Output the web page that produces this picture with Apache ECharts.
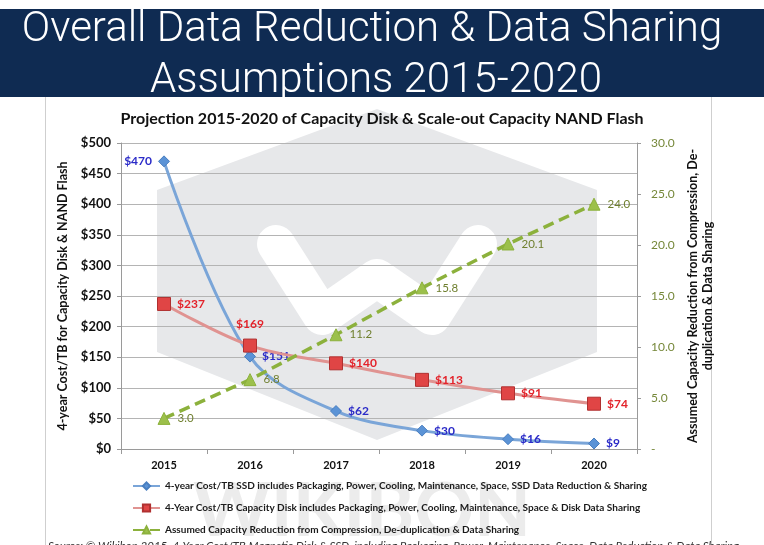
<!DOCTYPE html>
<html>
<head>
<meta charset="utf-8">
<script src="https://cdn.jsdelivr.net/npm/echarts@6/dist/echarts.min.js"></script>
<style>
  html, body { margin: 0; padding: 0; background: #fff; }
  #chart { width: 764px; height: 545px; }
</style>
</head>
<body>
<div id="chart"></div>
<script>
// data
const years = ['2015', '2016', '2017', '2018', '2019', '2020']
const ssdCost = [470, 151, 62, 30, 16, 9]
const diskCost = [237, 169, 140, 113, 91, 74]
const reduction = [3.0, 6.8, 11.2, 15.8, 20.1, 24.0]
const seriesNames = [
  '4-year Cost/TB SSD includes Packaging, Power, Cooling, Maintenance, Space, SSD Data Reduction & Sharing',
  '4-Year Cost/TB Capacity Disk includes Packaging, Power, Cooling, Maintenance, Space & Disk Data Sharing',
  'Assumed Capacity Reduction from Compression, De-duplication & Data Sharing'
]

const chart = echarts.init(document.getElementById('chart'))
const FONT = 'Lato'

// 水印与页眉
const graphics = [
  {
    type: 'rect', z: -20, silent: true,
    shape: { x: 0, y: 9, width: 764, height: 88 },
    style: { fill: '#0f2b52' }
  },
  {
    type: 'text', z: -5, silent: true,
    style: {
      text: 'Overall Data Reduction & Data Sharing', x: 372, y: 30,
      align: 'center', verticalAlign: 'middle',
      fontFamily: 'Roboto', fontWeight: 300, fontSize: 42, fill: '#ffffff'
    }
  },
  {
    type: 'text', z: -5, silent: true,
    style: {
      text: 'Assumptions 2015-2020', x: 376, y: 81,
      align: 'center', verticalAlign: 'middle',
      fontFamily: 'Roboto', fontWeight: 300, fontSize: 42, fill: '#ffffff'
    }
  },
  {
    type: 'polygon', z: -20, silent: true,
    shape: { points: [[377, 109], [597, 190], [597, 352], [377, 440], [157, 352], [157, 190]] },
    style: { fill: '#e7e8ea' }
  },
  {
    type: 'polyline', z: -19, silent: true,
    shape: { points: [[276, 244], [322, 316], [377, 278], [432, 316], [478, 244]] },
    style: { stroke: '#ffffff', lineWidth: 38, lineJoin: 'round', lineCap: 'round', fill: null }
  },
  {
    type: 'text', z: -19, silent: true,
    style: {
      text: 'WIKIBON', x: 362, y: 512, align: 'center', verticalAlign: 'middle',
      fontFamily: FONT, fontWeight: 'bold', fontSize: 74, fill: '#ececec'
    }
  },
  {
    type: 'line', z: -5, silent: true,
    shape: { x1: 45.5, y1: 97, x2: 45.5, y2: 545 },
    style: { stroke: '#cfcfcf', lineWidth: 1 }
  },
  {
    type: 'line', z: -5, silent: true,
    shape: { x1: 711.5, y1: 97, x2: 711.5, y2: 545 },
    style: { stroke: '#cfcfcf', lineWidth: 1 }
  },
  {
    type: 'text', z: -5, silent: true,
    style: {
      text: 'Source: \u00a9 Wikibon 2015. 4-Year Cost/TB Magnetic Disk & SSD, including Packaging, Power, Maintenance, Space, Data Reduction & Data Sharing',
      x: 48, y: 540, align: 'left', verticalAlign: 'top',
      fontFamily: FONT, fontStyle: 'italic', fontSize: 11.5, fill: '#333333'
    }
  }
]

const option = {
  backgroundColor: '#ffffff',
  textStyle: { fontFamily: FONT },
  graphic: graphics,
  title: {
    text: 'Projection 2015-2020 of Capacity Disk & Scale-out Capacity NAND Flash',
    left: 'center',
    top: 106,
    textStyle: { fontFamily: FONT, fontSize: 16, fontWeight: 'bold', color: '#111' }
  },
  grid: { left: 121, right: 127, top: 143, bottom: 96 },
  legend: {
    orient: 'vertical',
    left: 127,
    top: 476,
    itemWidth: 27,
    itemHeight: 9,
    itemGap: 12,
    textStyle: { fontFamily: FONT, fontSize: 10, fontWeight: 'bold', color: '#1a1a1a' },
    data: seriesNames
  },
  xAxis: {
    type: 'category',
    data: years,
    axisLine: { lineStyle: { color: '#9a9a9a' } },
    axisTick: { show: true, length: 5, lineStyle: { color: '#9a9a9a' } },
    axisLabel: { fontFamily: FONT, fontSize: 11, fontWeight: 'bold', color: '#111', margin: 11 }
  },
  yAxis: [
    {
      type: 'value',
      min: 0, max: 500, interval: 50,
      name: '4-year Cost/TB for Capacity Disk & NAND Flash',
      nameLocation: 'middle',
      nameGap: 51,
      nameTextStyle: { fontFamily: FONT, fontSize: 12.5, fontWeight: 'bold', color: '#111' },
      axisLine: { show: true, lineStyle: { color: '#9a9a9a' } },
      axisTick: { show: true, length: 4, lineStyle: { color: '#9a9a9a' } },
      splitLine: { lineStyle: { color: '#b4b4b4' } },
      axisLabel: {
        fontFamily: FONT, fontSize: 13, fontWeight: 'bold', color: '#111', margin: 10,
        formatter: v => '$' + v
      }
    },
    {
      type: 'value',
      min: 0, max: 30, interval: 5,
      name: 'Assumed Capacity Reduction from Compression, De-\nduplication & Data Sharing',
      nameLocation: 'middle',
      nameGap: 43,
      nameTextStyle: { fontFamily: FONT, fontSize: 12.5, fontWeight: 'bold', color: '#111', lineHeight: 15 },
      axisLine: { show: true, lineStyle: { color: '#9a9a9a' } },
      axisTick: { show: true, length: 4, lineStyle: { color: '#9a9a9a' } },
      splitLine: { show: false },
      axisLabel: {
        fontFamily: FONT, fontSize: 12, color: '#76883a', margin: 14,
        formatter: v => (v === 0 ? '-' : v.toFixed(1))
      }
    }
  ],
  series: [
    {
      name: seriesNames[0],
      type: 'line',
      data: ssdCost,
      smooth: 0.35,
      symbol: 'diamond',
      symbolSize: 11,
      lineStyle: { color: '#7aa5d8', width: 3 },
      itemStyle: { color: '#5b93d6', borderColor: '#4a7fc0', borderWidth: 1 },
      label: {
        show: true,
        position: 'right',
        distance: 6,
        fontFamily: FONT, fontSize: 12, fontWeight: 'bold', color: '#2b2bc8',
        formatter: p => '$' + p.value
      },
      z: 2
    },
    {
      name: seriesNames[1],
      type: 'line',
      data: diskCost,
      smooth: 0.35,
      symbol: 'rect',
      symbolSize: 13,
      lineStyle: { color: '#e09391', width: 3 },
      itemStyle: { color: '#e04545', borderColor: '#b03030', borderWidth: 1 },
      label: {
        show: true,
        position: 'right',
        distance: 6,
        fontFamily: FONT, fontSize: 12, fontWeight: 'bold', color: '#e3232b',
        formatter: p => '$' + p.value
      },
      z: 3
    },
    {
      name: seriesNames[2],
      type: 'line',
      yAxisIndex: 1,
      data: reduction,
      symbol: 'triangle',
      symbolSize: 12,
      lineStyle: { color: '#8cb13c', width: 3.5, type: [11, 6] },
      itemStyle: { color: '#9cc04b', borderColor: '#8cb13c', borderWidth: 1 },
      label: {
        show: true,
        position: 'right',
        distance: 7,
        fontFamily: FONT, fontSize: 11.5, color: '#6f7f2e',
        formatter: p => p.value.toFixed(1)
      },
      z: 4
    }
  ]
}

// 单独调整个别标签位置
option.series[0].data = ssdCost.map((v, i) => i === 0
  ? { value: v, label: { position: 'left' } }
  : v)
option.series[1].data = diskCost.map((v, i) => i === 1
  ? { value: v, label: { position: 'top', distance: 8 } }
  : v)

chart.setOption(option)
</script>
</body>
</html>
